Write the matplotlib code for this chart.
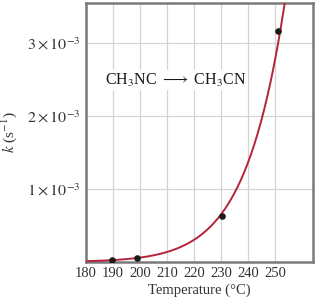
import numpy as np
import matplotlib
matplotlib.use("Agg")
import matplotlib.pyplot as plt

plt.rcParams['font.family'] = ['Liberation Serif', 'DejaVu Serif']
plt.rcParams['mathtext.fontset'] = 'stix'

temps_c = [189.7, 198.9, 230.3, 251.2]
k_vals = [2.52e-5, 5.25e-5, 6.30e-4, 3.16e-3]
xticks = [180, 190, 200, 210, 220, 230, 240, 250]
yticks = [1e-3, 2e-3, 3e-3]
ytick_labels = [r'$1 \times 10^{-3}$', r'$2 \times 10^{-3}$', r'$3 \times 10^{-3}$']

# Arrhenius fit through the measured points
T = np.array(temps_c) + 273.15
slope, intercept = np.polyfit(1.0 / T, np.log(k_vals), 1)
tc = np.linspace(180, 253.5, 300)
kc = np.exp(intercept + slope / (tc + 273.15))

fig = plt.figure(figsize=(3.2, 3.0), dpi=100)
ax = fig.add_axes([0.269, 0.127, 0.709, 0.863])
ax.plot(tc, kc, color='#b3243a', lw=1.4, zorder=3)
ax.scatter(temps_c, k_vals, s=14, color='#1a1a1a', zorder=4)

ax.set_xlim(180, 264)
ax.set_ylim(0, 3.55e-3)
ax.set_xticks(xticks)
ax.set_yticks(yticks)
ax.set_yticklabels(ytick_labels, fontsize=11.5)
ax.tick_params(axis='x', labelsize=10.5)
ax.tick_params(length=0, colors='#333333', pad=4)
ax.grid(True, color='#d4d4d4', lw=0.9)
ax.set_axisbelow(True)
for s in ax.spines.values():
    s.set_color('#7a7a7a')
    s.set_linewidth(1.8)

ax.set_xlabel('Temperature (°C)', fontsize=10.5, color='#333333', labelpad=2)
ax.set_ylabel(r'$k$ (s$^{-1}$)', fontsize=11, color='#333333', labelpad=6)

ax.text(187, 2.49e-3, r'CH$_3$NC $\longrightarrow$ CH$_3$CN', fontsize=11.5,
        color='#1a1a1a', va='center', ha='left',
        bbox=dict(facecolor='white', edgecolor='none', pad=1))

fig.savefig('out.png', dpi=100)
